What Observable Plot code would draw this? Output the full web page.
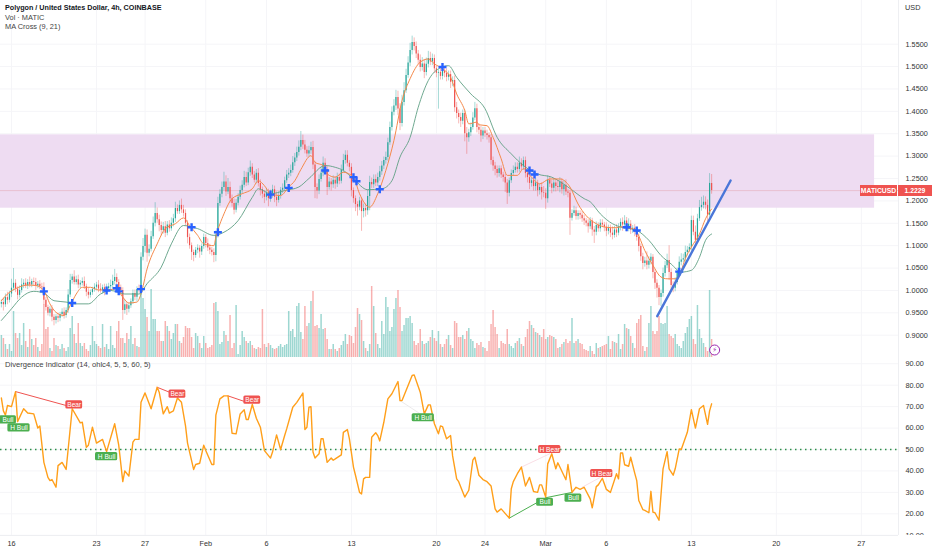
<!DOCTYPE html>
<html><head><meta charset="utf-8">
<script src="https://cdn.jsdelivr.net/npm/d3@7"></script>
<script src="https://cdn.jsdelivr.net/npm/@observablehq/plot@0.6"></script>
<style>
html,body{margin:0;padding:0;background:#fff;overflow:hidden}
#chart{position:relative;width:932px;height:550px;font-family:"Liberation Sans",sans-serif;color:#131722}
.t{position:absolute;white-space:nowrap;line-height:1}
.tag{position:absolute;background:#ef5350;color:#fff;font-size:6.8px;font-weight:bold;text-align:center;line-height:11px;height:11px;top:185px}
</style></head><body><div id="chart"></div>
<script>
// 4h closes, price x 1000, one per bar
const closes=[973,968,984,978,992,1005,1016,1003,989,1000,1012,1016,1010,1018,1012,1020,1018,1010,1014,1008,
1007,978,962,949,958,940,933,941,938,946,951,944,955,990,1022,1030,1018,1024,1012,1016,
1020,1008,996,989,995,1002,1007,1012,1003,1000,1006,998,1004,1008,1011,1020,1029,1018,1006,1000,
955,968,958,966,975,993,985,1002,1000,1074,1098,1123,1083,1092,1120,1150,1172,1158,1145,1134,
1142,1128,1146,1138,1150,1160,1183,1176,1190,1180,1172,1150,1118,1100,1085,1078,1090,1094,1086,1098,
1118,1105,1095,1090,1085,1078,1123,1194,1215,1230,1242,1220,1230,1205,1194,1179,1195,1208,1223,1235,
1252,1240,1263,1275,1258,1246,1262,1239,1225,1215,1208,1218,1205,1214,1225,1208,1201,1212,1224,1228,
1245,1258,1262,1268,1285,1296,1308,1320,1335,1325,1313,1305,1312,1319,1280,1230,1222,1248,1262,1284,
1270,1230,1242,1236,1246,1238,1252,1244,1268,1290,1302,1284,1275,1223,1205,1192,1186,1200,1176,1183,
1178,1210,1241,1236,1248,1240,1252,1265,1278,1290,1297,1330,1364,1398,1412,1431,1405,1373,1420,1446,
1480,1508,1536,1554,1545,1528,1514,1498,1506,1487,1505,1518,1510,1518,1495,1485,1487,1478,1490,1485,
1476,1482,1465,1469,1408,1395,1386,1378,1395,1350,1341,1352,1364,1385,1406,1364,1358,1345,1356,1350,
1346,1341,1290,1278,1270,1261,1272,1258,1252,1240,1217,1245,1261,1268,1275,1270,1284,1276,1290,1261,
1252,1239,1245,1232,1240,1223,1230,1218,1217,1205,1246,1238,1228,1240,1232,1230,1242,1225,1235,1220,
1217,1161,1172,1178,1165,1172,1168,1160,1155,1150,1142,1155,1135,1130,1145,1138,1150,1146,1141,1132,
1138,1128,1123,1135,1128,1141,1152,1146,1155,1139,1148,1135,1139,1130,1118,1098,1075,1060,1066,1056,
1065,1074,1040,1016,1005,984,993,1038,1055,1067,1040,1011,1005,1018,1042,1063,1068,1071,1085,1090,
1096,1156,1130,1112,1160,1185,1190,1197,1190,1168,1239,1223];
const wickUp=[6,10,8,12,6,20,33,8,5,10,14,8,10,6,12,5,8,9,6,8,
8,10,6,5,6,8,6,5,8,5,8,10,6,12,14,6,14,8,10,6,
8,10,6,8,6,5,8,6,10,12,6,8,10,8,12,14,18,8,6,6,
6,10,6,5,6,8,8,6,10,10,18,14,12,10,12,14,24,12,10,8,
10,12,8,10,12,10,14,8,10,14,10,8,6,8,6,5,6,8,6,6,
8,6,10,8,6,8,10,14,10,12,22,14,20,12,8,10,8,8,10,10,
14,12,10,14,8,8,8,10,8,6,8,10,8,10,10,8,12,8,6,10,
8,10,10,12,14,10,12,14,20,12,10,8,10,12,14,8,8,10,12,14,
10,8,10,8,10,8,10,8,12,14,10,10,6,8,6,6,6,8,6,10,
10,14,14,10,10,10,10,12,10,8,12,10,12,12,14,16,14,12,16,18,
14,14,16,14,10,10,8,12,14,10,14,16,14,10,8,6,6,8,8,6,
10,8,8,8,10,12,8,10,8,8,14,8,10,12,14,10,8,8,8,8,
8,6,8,8,8,8,6,6,6,8,8,6,8,10,10,10,14,10,8,8,
8,8,6,8,10,6,8,10,14,10,10,8,8,10,8,14,10,8,10,12,
6,6,8,10,8,6,6,8,8,6,8,8,6,8,8,6,8,8,6,10,
8,8,14,8,12,8,8,10,12,8,12,8,6,8,8,8,6,8,8,20,
10,8,6,6,8,6,8,12,10,14,33,8,8,10,8,12,14,10,14,8,
8,10,10,14,10,16,18,14,12,12,22,20];
const wickDown=[8,14,6,10,6,8,6,8,10,6,6,8,6,8,6,6,8,10,6,6,
8,10,8,6,8,10,12,8,10,8,6,8,6,6,6,8,6,6,8,8,
6,6,10,8,6,6,6,8,8,6,8,10,6,6,6,8,8,6,8,12,
22,8,14,8,6,6,8,10,6,6,8,14,20,8,6,6,8,8,14,12,
8,10,6,8,6,8,8,6,6,8,8,6,14,8,18,14,6,8,14,8,
6,10,8,10,8,16,14,6,6,8,8,10,6,10,8,10,6,6,6,8,
6,8,6,8,8,6,8,8,14,10,14,8,18,8,8,12,14,6,8,8,
6,6,8,8,6,8,8,8,8,10,8,8,8,8,10,25,18,8,6,8,
10,18,6,14,8,12,8,8,6,6,8,8,10,14,10,16,20,8,44,14,
14,10,32,8,8,8,8,8,8,8,8,8,6,8,8,10,14,16,8,8,
6,6,8,10,10,10,10,10,8,14,8,8,8,8,10,10,80,8,8,10,
10,8,14,10,10,12,14,14,8,18,37,10,8,6,6,12,10,14,8,8,
10,12,10,12,14,10,8,8,10,21,25,8,6,6,6,8,6,8,8,10,
12,14,8,10,10,14,10,16,10,24,10,8,12,8,12,8,12,10,14,8,
10,38,6,6,8,8,10,8,10,8,14,6,14,25,8,8,8,6,10,12,
8,10,10,6,10,6,8,14,10,8,8,10,8,10,8,12,10,14,8,10,
8,8,14,14,22,18,20,8,8,6,18,14,10,8,6,6,8,6,8,8,
6,8,8,12,6,6,8,8,10,14,6,8];
const volumes=[22,19,13,8,13,6,46,24,19,24,12,34,16,10,28,18,12,19,10,6,
13,53,28,30,9,6,19,12,11,8,13,9,6,10,29,41,23,14,34,14,
11,14,8,6,12,31,16,13,11,9,33,10,13,8,31,12,9,26,36,19,
19,14,24,18,31,13,19,11,10,64,59,48,40,26,68,38,38,26,26,16,
16,36,31,26,18,24,33,33,16,14,20,31,29,29,20,9,24,21,14,9,
21,14,9,10,12,54,55,46,13,15,26,22,16,42,9,14,52,3,12,26,
20,16,14,16,12,9,8,10,9,48,13,10,14,12,9,8,9,11,13,10,
12,13,46,26,28,20,51,54,25,18,51,31,34,
56,66,31,32,29,43,28,29,18,8,8,13,8,6,9,12,16,23,13,22,21,14,30,49,43,37,16,9,6,13,71,51,24,13,9,36,23,60,50,26,
30,48,59,67,50,26,32,39,39,41,34,16,12,14,28,16,13,14,16,20,27,19,16,26,13,10,13,18,22,12,9,36,34,20,20,22,18,26,29,
18,16,9,14,12,15,10,9,6,16,33,47,30,23,9,16,14,13,28,13,11,9,14,16,19,13,11,20,28,36,32,29,25,24,22,20,28,18,20,22,21,
20,18,9,10,13,15,18,14,16,39,14,16,18,14,13,8,7,6,11,6,3,14,9,10,11,12,13,21,8,16,15,14,23,
8,13,33,29,28,21,14,9,34,38,42,11,6,10,34,51,26,23,26,41,34,33,34,51,23,21,19,23,13,11,9,16,24,30,38,41,18,13,52,28,19,14,10,6,67,18];

const ma9Bars=[0,3,8,13,17,21,24,27,31,34,37,40,44,48,53,57,60,63,67,69,72,77,81,86,90,93,97,100,105,106,110,114,119,124,127,130,133,138,142,145,148,153,155,159,161,165,169,174,177,182,186,190,194,198,202,207,211,214,218,222,225,229,231,235,236,240,243,247,250,255,258,262,266,271,276,281,285,289,294,299,304,306,311,314,318,322,326,329,333,336,338,341,345,348,351];
const ma9Vals=[977,992,1006,1012,1011,1000,970,951,944,966,992,1007,1007,1001,1001,1004,985,972,974,992,1048,1104,1138,1149,1162,1145,1123,1104,1100,1119,1171,1205,1216,1227,1245,1234,1216,1212,1231,1245,1270,1301,1286,1279,1260,1253,1264,1253,1216,1186,1216,1268,1335,1424,1473,1510,1517,1506,1495,1476,1439,1402,1372,1376,1370,1368,1342,1294,1257,1257,1272,1253,1238,1249,1249,1231,1193,1167,1149,1141,1140,1142,1139,1130,1089,1056,1030,1026,1026,1045,1071,1097,1126,1160,1182];
const ma21Bars=[0,5,10,16,21,26,32,36,43,49,54,61,68,72,79,84,90,97,105,110,117,124,127,133,140,147,152,160,165,169,174,181,188,193,197,202,206,211,216,221,225,232,239,245,252,258,265,272,280,288,291,296,302,305,314,320,326,331,336,341,345,348,351];
const ma21Vals=[933,959,985,998,994,977,974,970,970,992,1000,992,992,1015,1052,1104,1145,1138,1123,1130,1156,1208,1227,1216,1223,1231,1250,1279,1275,1268,1249,1225,1227,1245,1298,1342,1409,1469,1495,1502,1476,1439,1406,1342,1305,1279,1260,1253,1231,1205,1198,1171,1149,1143,1134,1112,1078,1059,1041,1045,1074,1112,1126];

const crossBars=[21,35,52,57,58,69,94,107,133,142,160,174,175.5,187,218,261,263.5,309,314,335];
const crossVals=[998,972,1000,1005,998,1003,1141,1130,1214,1229,1268,1253,1244,1226,1499,1268,1259,1141,1134,1042];

const rsiBars=[0,1,2,3,5,7,8,11,13,16,18,19,21,23,24,25,27,28,30,32,35,39,40,42,43,45,47,50,52,56,58,60,61,63,65,66,68,69,71,74,77,78,80,82,83,85,87,89,91,92,95,96,98,100,101,104,105,106,108,110,112,114,116,118,120,121,122,124,126,128,130,131,133,134,136,138,140,141,144,146,149,150,151,152,
153,154,155,157,158,159,161,163,164,165,168,169,171,172,174,175,177,178,179,180,182,183,185,186,187,189,191,193,196,197,198,200,203,204,207,209,211,212,214,216,217,218,220,222,223,225,226,229,231,233,234,236,238,240,242,244,245,247,251,252,253,255,257,259,261,263,265,266,267,269,270,272,274,275,279,280,282,284,286,288,291,292,294,295,297,299,301,304,305,
306,307,308,310,311,313,314,315,317,318,320,321,322,323,325,327,329,330,332,333,335,336,339,341,343,345,347,349,350,351];
const rsiVals=[74,68,66,70.5,70,77,63,69,67,66.6,60,61,44,37,35.5,36,32.4,42.5,44,40.7,69,62.4,62.7,51,52,60.4,53,54.7,49,62,52,35,40,37.6,53.4,54.7,54.7,72,76.4,69,79,76.7,66.6,70,67,68,74,72,61,53,40.7,43,43.6,52,49.5,43,43,66,73.6,75,75,57.6,57.3,66.6,68.5,64,64,71,64.6,60.4,49.5,48.3,46,48.8,56.8,50,56.5,59.6,69.7,72,76.3,59.3,60.4,69.7,
70,48.8,46,48,55,55,44,46,45,45.6,47.5,58,59.3,55,41.8,38,30,29.3,36.3,37,37,55.7,57.8,56.5,54,62.7,73.6,76,81.7,72.8,72.8,77.5,84.5,84.8,76.7,66.6,70.8,70.8,62,57.3,61,60.7,55,56.5,47,36.3,35,27.8,31,45,46.4,38,36,35,33,22.3,20.8,22.3,18,31.7,35,38.7,41.8,33,37,30.4,30,33.5,33.5,27.8,43.3,48,41,43.8,35.9,43,30,32.4,31.4,32.4,27,22.8,32.7,33.5,36.6,31.4,30,38.7,36.3,
48.4,48.4,42.9,42.2,46.4,39,35.5,26.2,22,21.6,20.5,30.5,20.8,20.5,17,41,49,41,38,41,50.3,50,58,68.6,60,69,70.5,61.7,68,71.3];

// divergence lines: [bar, rsi, bar, rsi]
const bearLines=[[7,77,34,70],[77,79,85,76],[112,75,122,71.8]];
const bullLines=[[251,18,269,27.5],[269,27.5,282,30]];
const hiddenBearLines=[[257,41.8,271,48],[287,32.4,296,37]];
const hiddenBullLines=[[197,72.8,208,66]];
const labelText=["Bull","H Bull","Bear","Bear","Bear","H Bull","H Bull","H Bear","H Bear","Bull","Bull"];
const labelBar=[3.3,8.7,36,87,124,52,208.5,271,296.7,268.7,282.7];
const labelRsi=[63.8,60.1,70.8,75.8,73,46.7,64.8,50,38.8,25.4,27.3];

const dayTicks=[0,7,11,16,21,28,35,39,44,49,56,63,70];
const dayLabels=["16","23","27","Feb","6","13","20","24","Mar","6","13","20","27"];
const priceTicks=[0.9,0.95,1,1.05,1.1,1.15,1.2,1.25,1.3,1.35,1.4,1.45,1.5,1.55];
const rsiTicks=[90,80,70,60,50,40,30,20,10];
const lastPrice=1.2229;
const zone={start:-0.906,end:71.09,low:1.1837,high:1.3475};
const trend={d:[53.19,59.23],p:[0.9425,1.2456]};

const day=i=>(i-5)/6;
const UP="#26a69a",DOWN="#ef5350";
const bars=closes.map((c,i)=>{
  const o=i?closes[i-1]:c-4;
  return {d:day(i),o:o/1000,c:c/1000,h:(Math.max(o,c)+wickUp[i])/1000,l:(Math.min(o,c)-wickDown[i])/1000,v:volumes[i],up:c>=o};
});
const xDom=[-0.906,73.06];
const base={width:932,marginLeft:0,marginRight:34,marginTop:0,x:{domain:xDom,axis:null}};
const font='"Liberation Sans",sans-serif';
const chart=document.getElementById("chart");
const stylePos=(top)=>({position:"absolute",left:"0",top:top+"px",background:"transparent",fontFamily:font,fontSize:"7.3px",color:"#131722"});
const grid="#f5f5f8",sep="#eeeff2";

const main=Plot.plot({...base,height:357,marginBottom:0,style:stylePos(0),
  y:{domain:[0.8502,1.6476],axis:null},
  marks:[
    Plot.gridX(dayTicks,{stroke:grid,strokeOpacity:1}),
    Plot.gridY(priceTicks,{stroke:grid,strokeOpacity:1}),
    Plot.rect([zone],{x1:"start",x2:"end",y1:"low",y2:"high",fill:"#eedcf2"}),
    Plot.ruleY([lastPrice],{stroke:"#e6b3c0",strokeWidth:0.7}),
    Plot.ruleX(bars,{x:"d",y1:"l",y2:"h",stroke:d=>d.up?UP:DOWN,strokeWidth:0.6,strokeOpacity:.7}),
    Plot.ruleX(bars,{x:"d",y1:"o",y2:"c",stroke:d=>d.up?UP:DOWN,strokeWidth:1.2}),
    Plot.line(ma21Bars.map((b,i)=>({d:day(b),p:ma21Vals[i]/1000})),{x:"d",y:"p",stroke:"#5f9f83",strokeWidth:0.9,curve:"monotone-x"}),
    Plot.line(ma9Bars.map((b,i)=>({d:day(b),p:ma9Vals[i]/1000})),{x:"d",y:"p",stroke:"#f5894a",strokeWidth:1,curve:"monotone-x"}),
    Plot.dot(crossBars.map((b,i)=>({d:day(b),p:crossVals[i]/1000})),{x:"d",y:"p",symbol:"plus",r:2.7,stroke:"#2962ff",strokeWidth:2.4}),
    Plot.line(trend.d.map((d,i)=>({d,p:trend.p[i]})),{x:"d",y:"p",stroke:"#4a76d8",strokeWidth:2.4}),
    Plot.ruleX([xDom[1]],{stroke:sep}),
    Plot.axisY(priceTicks,{anchor:"right",tickSize:0,tickPadding:7,tickFormat:d3.format(".4f"),fill:"#333",label:null})
  ]});
chart.append(main);

const vol=Plot.plot({...base,height:357,marginBottom:0,style:stylePos(0),
  y:{domain:[0,357],axis:null},
  marks:[
    Plot.ruleX(bars,{x:"d",y1:0,y2:"v",stroke:d=>d.up?UP:DOWN,strokeOpacity:.45,strokeWidth:1.5}),
    Plot.dot([{d:day(352.5),v:7.5}],{x:"d",y:"v",r:5,stroke:"#9c27b0",strokeWidth:1,fill:"#fff"}),
    Plot.text([{d:day(352.5),v:7.5}],{x:"d",y:"v",text:()=>"\u26A1\uFE0E",fill:"#9c27b0",fontSize:7,fontFamily:"DejaVu Sans"}),
    Plot.ruleY([0],{stroke:sep})
  ]});
chart.append(vol);

const toLines=(arr)=>arr.flatMap((s,k)=>[{k,d:day(s[0]),r:s[1]},{k,d:day(s[2]),r:s[3]}]);
const labels=labelText.map((t,i)=>{
  const half=(t.length*1.35+3)/12.14;
  return {t,d:day(labelBar[i]),r:labelRsi[i],d1:day(labelBar[i])-half,d2:day(labelBar[i])+half,r1:labelRsi[i]-1.9,r2:labelRsi[i]+1.9,col:t.includes("Bear")?"#ef5350":"#4caf50"};
});
const rsiData=rsiBars.map((b,i)=>({d:day(b),r:rsiVals[i]}));
const rsi=Plot.plot({...base,height:193,marginBottom:15,style:stylePos(357),
  y:{domain:[9.9,92.9],axis:null},
  marks:[
    Plot.gridX(dayTicks,{stroke:grid,strokeOpacity:1}),
    Plot.gridY(rsiTicks,{stroke:grid,strokeOpacity:1}),
    Plot.ruleY([50],{stroke:"#2e8f4a",strokeWidth:1.4,strokeDasharray:"1.5 3.5"}),
    Plot.line(toLines(hiddenBearLines),{x:"d",y:"r",z:"k",stroke:"#f7d6de",strokeWidth:0.8}),
    Plot.line(toLines(hiddenBullLines),{x:"d",y:"r",z:"k",stroke:"#e6e4e6",strokeWidth:0.8}),
    Plot.line(toLines(bearLines),{x:"d",y:"r",z:"k",stroke:"#ef5350",strokeWidth:1}),
    Plot.line(toLines(bullLines),{x:"d",y:"r",z:"k",stroke:"#4caf50",strokeWidth:1}),
    Plot.line(rsiData,{x:"d",y:"r",stroke:"#ff9f1a",strokeWidth:1.4}),
    Plot.rect(labels,{x1:"d1",x2:"d2",y1:"r1",y2:"r2",fill:"col",rx:1.5}),
    Plot.text(labels,{x:"d",y:"r",text:"t",fill:"#fff",fontSize:6.6}),
    Plot.ruleX([xDom[1]],{stroke:sep}),
    Plot.ruleY([9.9],{stroke:sep}),
    Plot.axisY(rsiTicks,{anchor:"right",tickSize:0,tickPadding:7,tickFormat:d3.format(".2f"),fill:"#333",label:null}),
    Plot.axisX(dayTicks,{anchor:"bottom",tickSize:0,tickPadding:5,tickFormat:(d)=>dayLabels[dayTicks.indexOf(d)],fill:"#333",label:null})
  ]});
chart.append(rsi);

function add(cls,text,css){const e=document.createElement("div");e.className=cls;e.textContent=text;Object.assign(e.style,css);chart.append(e);return e;}
add("t","Polygon / United States Dollar, 4h, COINBASE",{left:"5px",top:"4px",fontSize:"7.2px",fontWeight:"bold"});
add("t","Vol · MATIC",{left:"5px",top:"14px",fontSize:"7.4px",color:"#444"});
add("t","MA Cross (9, 21)",{left:"5px",top:"23px",fontSize:"7.4px",color:"#444"});
add("t","Divergence Indicator (14, ohlc4, 5, 5, 60, 5)",{left:"5px",top:"361px",fontSize:"7.6px",color:"#444"});
add("t","USD",{left:"905px",top:"4px",fontSize:"7.3px",color:"#333"});
add("tag","MATICUSD",{left:"860px",width:"37px"});
add("tag","1.2229",{left:"898px",width:"34px"});
const cover=document.createElement("div");
Object.assign(cover.style,{position:"absolute",left:"899px",top:"535px",width:"33px",height:"15px",background:"#fff"});
chart.append(cover);
</script></body></html>
